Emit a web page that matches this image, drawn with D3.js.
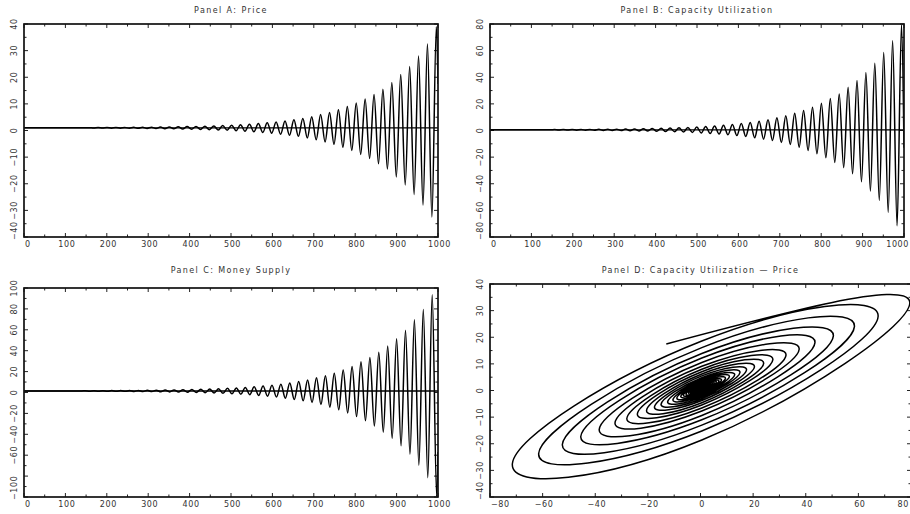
<!DOCTYPE html>
<html>
<head>
<meta charset="UTF-8"/>
<title>Panels A-D</title>
<script src="https://d3js.org/d3.v7.min.js"></script>
<style>
body { margin: 0; background: #fff; }
svg { display: block; }
text { font-family: 'DejaVu Sans', sans-serif; font-size: 8px; fill: #333; letter-spacing: 0.6px; }
text.title { letter-spacing: 1.4px; }
.frame { fill: none; stroke: #111; stroke-width: 1.7; }
.tick { stroke: #222; stroke-width: 1; }
.series { fill: none; stroke: #000; stroke-width: 1.5; }
.eq { stroke: #000; stroke-width: 1.4; }
</style>
</head>
<body>
<svg width="910" height="514"></svg>
<script>
// turning points of capacity utilization (peaks and troughs), in periods
const turnTimes = [155.5, 166.3, 177, 187.8, 198.5, 209.3, 220, 230.8, 241.5, 252.3,
  263, 273.8, 284.5, 295.3, 306, 316.8, 327.5, 338.3, 349, 359.8,
  370.5, 381.3, 392, 402.8, 413.5, 424.3, 435, 445.8, 456.5, 467.3,
  478, 488.8, 499.5, 510.3, 521, 531.8, 542.5, 553.3, 564, 574.8,
  585.5, 596.3, 607, 617.8, 628.5, 639.3, 650, 660.8, 671.5, 682.3,
  693, 703.8, 714.5, 725.3, 736, 746.8, 757.5, 768.3, 779, 789.8,
  800.5, 811.3, 822, 832.8, 843.5, 854.3, 865, 875.8, 886.5, 897.3,
  908, 918.8, 929.5, 940.3, 951, 961.8, 972.5, 983.3, 994, 1004.8];
const priceLag = 2;    // price turns after capacity utilization
const moneyLead = 8;   // money supply turns before capacity utilization

const priceEq = 1, cuEq = 0.5, moneyEq = 1.5;
const endPrice = 17.5, endCu = -13, endMoney = -57;

// deviations from equilibrium at each turning point
const cuTurns = [0.16, -0.18, 0.2, -0.21, 0.23, -0.25, 0.27, -0.3, 0.32, -0.35,
  0.38, -0.41, 0.44, -0.48, 0.52, -0.56, 0.62, -0.66, 0.72, -0.8,
  0.85, -0.9, 1, -1.05, 1.15, -1.25, 1.35, -1.45, 1.55, -1.7,
  1.8, -2, 2.1, -2.3, 2.5, -2.7, 2.9, -3.1, 3.4, -3.7,
  4, -4.3, 4.7, -5, 5.5, -6, 6.5, -7, 7.5, -8,
  9, -9.5, 10.5, -11, 12.5, -13, 14.5, -15.5, 17, -18,
  20, -21, 23.5, -24.5, 27, -28.5, 32, -33, 37, -39,
  43, -46, 50, -53, 58, -62, 67, -72, 79];
const priceTurns = [0.08, -0.08, 0.09, -0.1, 0.11, -0.12, 0.13, -0.14, 0.15, -0.16,
  0.18, -0.19, 0.21, -0.23, 0.25, -0.27, 0.29, -0.31, 0.34, -0.37,
  0.4, -0.43, 0.46, -0.5, 0.54, -0.58, 0.63, -0.68, 0.72, -0.8,
  0.85, -0.9, 1, -1.1, 1.15, -1.25, 1.35, -1.45, 1.6, -1.75,
  1.9, -2, 2.2, -2.4, 2.6, -2.8, 3, -3.2, 3.5, -3.8,
  4.2, -4.5, 5, -5.3, 5.8, -6.2, 6.8, -7.3, 8, -8.5,
  9.3, -10, 10.8, -11.5, 12.5, -13.5, 14.5, -15.5, 17, -18.5,
  20, -21.5, 23, -25, 27, -29, 31.5, -33.5, 38];
const moneyTurns = [0.2, -0.21, 0.23, -0.25, 0.27, -0.3, 0.32, -0.35, 0.38, -0.41,
  0.44, -0.48, 0.52, -0.56, 0.61, -0.66, 0.72, -0.78, 0.85, -0.92,
  1, -1.05, 1.15, -1.25, 1.35, -1.45, 1.55, -1.7, 1.8, -1.95,
  2.1, -2.3, 2.5, -2.7, 2.9, -3.1, 3.4, -3.6, 4, -4.3,
  4.7, -5, 5.5, -5.9, 6.4, -7, 7.6, -8.2, 9, -9.5,
  10.5, -11, 12.5, -13, 14.5, -15.5, 17, -18, 20, -21,
  23.5, -24.5, 28, -28.5, 32, -33.5, 37, -39.5, 43, -45.5,
  50, -52.5, 58, -60.5, 68, -71, 78, -83, 92, -101];

// panel D: price deviation when capacity utilization turns, and when it next crosses equilibrium
const phasePriceAtTurn = [0.07, -0.07, 0.08, -0.085, 0.09, -0.1, 0.11, -0.12, 0.13, -0.14,
  0.15, -0.16, 0.18, -0.2, 0.21, -0.23, 0.25, -0.26, 0.29, -0.31,
  0.34, -0.37, 0.39, -0.43, 0.46, -0.49, 0.54, -0.58, 0.61, -0.68,
  0.72, -0.77, 0.85, -0.94, 0.98, -1.06, 1.15, -1.23, 1.36, -1.49,
  1.62, -1.7, 1.87, -2.04, 2.21, -2.38, 2.55, -2.72, 2.98, -3.23,
  3.57, -3.83, 4.25, -4.5, 4.93, -5.27, 5.78, -6.2, 6.8, -7.2,
  7.9, -8.5, 9.2, -9.8, 10.6, -11.5, 12.3, -13.2, 14.5, -15.7,
  17, -18.3, 19.5, -21.3, 23, -24.7, 26.8, -28.5, 32.4];
const phasePriceAtCross = [0.045, -0.045, 0.05, -0.056, 0.06, -0.067, 0.073, -0.078, 0.084, -0.09,
  0.1, -0.106, 0.12, -0.13, 0.14, -0.15, 0.16, -0.17, 0.19, -0.21,
  0.22, -0.24, 0.26, -0.28, 0.3, -0.32, 0.35, -0.38, 0.4, -0.45,
  0.48, -0.5, 0.56, -0.62, 0.64, -0.7, 0.76, -0.81, 0.9, -0.98,
  1.06, -1.12, 1.23, -1.34, 1.46, -1.57, 1.68, -1.8, 1.96, -2.13,
  2.35, -2.52, 2.8, -2.97, 3.25, -3.47, 3.8, -4.1, 4.5, -4.76,
  5.2, -5.6, 6.05, -6.44, 7, -7.56, 8.1, -8.7, 9.5, -10.4,
  11.2, -12, 12.9, -14, 15.1, -16.2, 17.6, -19.6];

const timeTickLabels = [0, 100, 200, 300, 400, 500, 600, 700, 800, 900, 1000];
const priceTickLabels = [-40, -30, -20, -10, 0, 10, 20, 30, 40];
const cuTickLabels = [-80, -60, -40, -20, 0, 20, 40, 60, 80];
const moneyTickLabels = [-100, -60, -40, -20, 0, 20, 40, 60, 80, 100];
const phaseCuTickLabels = [-80, -60, -40, -20, 0, 20, 40, 60, 80];

const W = 910;
const svg = d3.select('svg');
const fmt = v => v < 0 ? '\u2212' + Math.abs(v) : String(v);

function series(turns, eq, shift, endValue) {
  const pts = [[0, eq], [turnTimes[0] + shift - 8, eq]];
  turns.forEach((v, i) => pts.push([turnTimes[i] + shift, eq + v]));
  pts.push([1000, endValue]);
  return pts;
}

function panel(cfg) {
  const g = svg.append('g');
  const x = d3.scaleLinear().domain(cfg.xDomain).range([cfg.left, cfg.right]);
  const y = d3.scaleLinear().domain(cfg.yDomain).range([cfg.bottom, cfg.top]);
  const id = 'clip' + cfg.name;
  g.append('clipPath').attr('id', id).append('rect')
    .attr('x', cfg.left).attr('y', cfg.top)
    .attr('width', cfg.right - cfg.left).attr('height', cfg.bottom - cfg.top);

  // ticks, inward on all four sides
  const xt = d3.range(cfg.xDomain[0], cfg.xDomain[1] + 1e-9, cfg.xMinor);
  const yt = d3.range(cfg.yDomain[0], cfg.yDomain[1] + 1e-9, cfg.yMinor);
  const isMajor = (v, step) => Math.abs(v / step - Math.round(v / step)) < 1e-6;
  xt.forEach(v => {
    const len = isMajor(v, cfg.xMajor) ? 4 : 2.5;
    g.append('line').attr('class', 'tick').attr('x1', x(v)).attr('x2', x(v))
      .attr('y1', cfg.bottom).attr('y2', cfg.bottom - len);
    g.append('line').attr('class', 'tick').attr('x1', x(v)).attr('x2', x(v))
      .attr('y1', cfg.top).attr('y2', cfg.top + len);
  });
  yt.forEach(v => {
    const len = isMajor(v, cfg.yMajor) ? 4 : 2.5;
    g.append('line').attr('class', 'tick').attr('y1', y(v)).attr('y2', y(v))
      .attr('x1', cfg.left).attr('x2', cfg.left + len);
    g.append('line').attr('class', 'tick').attr('y1', y(v)).attr('y2', y(v))
      .attr('x1', cfg.right).attr('x2', cfg.right - len);
  });

  // x labels, kept inside the frame on the left and inside the page on the right
  cfg.xLabels.forEach(v => {
    const t = g.append('text').attr('text-anchor', 'middle')
      .attr('y', cfg.bottom + 10).text(fmt(v));
    const w = t.node().getComputedTextLength();
    let cx = Math.max(x(v) + 1.5, cfg.left + 1 + w / 2);
    cx = Math.min(cx, W - 1 - w / 2);
    t.attr('x', cx);
  });
  // y labels, rotated
  cfg.yLabels.forEach(v => {
    const t = g.append('text').attr('text-anchor', 'middle').text(fmt(v));
    const w = t.node().getComputedTextLength();
    const cy = Math.min(y(v), cfg.bottom + 3 - w / 2);
    t.attr('transform', `translate(${cfg.left - 7},${cy}) rotate(-90)`);
  });

  g.append('text').attr('class', 'title').attr('text-anchor', 'middle')
    .attr('x', (cfg.left + cfg.right) / 2).attr('y', cfg.titleY).text(cfg.title);

  const body = g.append('g').attr('clip-path', `url(#${id})`);
  if (cfg.eq !== undefined) {
    body.append('line').attr('class', 'eq')
      .attr('x1', cfg.left).attr('x2', cfg.right)
      .attr('y1', y(cfg.eq)).attr('y2', y(cfg.eq));
  }
  body.append('path').attr('class', 'series')
    .attr('d', d3.line().x(d => x(d[0])).y(d => y(d[1])).curve(cfg.curve)(cfg.points));

  g.append('rect').attr('class', 'frame')
    .attr('x', cfg.left).attr('y', cfg.top)
    .attr('width', cfg.right - cfg.left).attr('height', cfg.bottom - cfg.top);
}

panel({
  name: 'A', title: 'Panel A: Price', titleY: 13,
  left: 24, right: 438, top: 24, bottom: 237,
  xDomain: [0, 1000], xMajor: 100, xMinor: 50, xLabels: timeTickLabels,
  yDomain: [-40, 40], yMajor: 10, yMinor: 5, yLabels: priceTickLabels,
  eq: priceEq, curve: d3.curveMonotoneX,
  points: series(priceTurns, priceEq, priceLag, endPrice)
});
panel({
  name: 'B', title: 'Panel B: Capacity Utilization', titleY: 13,
  left: 490, right: 904, top: 24, bottom: 237,
  xDomain: [0, 1000], xMajor: 100, xMinor: 50, xLabels: timeTickLabels,
  yDomain: [-80, 80], yMajor: 20, yMinor: 10, yLabels: cuTickLabels,
  eq: cuEq, curve: d3.curveMonotoneX,
  points: series(cuTurns, cuEq, 0, endCu)
});
panel({
  name: 'C', title: 'Panel C: Money Supply', titleY: 273,
  left: 24, right: 438, top: 288, bottom: 497,
  xDomain: [0, 1000], xMajor: 100, xMinor: 50, xLabels: timeTickLabels,
  yDomain: [-100, 100], yMajor: 20, yMinor: 10, yLabels: moneyTickLabels,
  eq: moneyEq, curve: d3.curveMonotoneX,
  points: series(moneyTurns, moneyEq, -moneyLead, endMoney)
});

// phase plot: capacity utilization against price
const phasePts = [[cuEq, priceEq]];
cuTurns.forEach((v, i) => {
  phasePts.push([cuEq + v, priceEq + phasePriceAtTurn[i]]);
  if (i < phasePriceAtCross.length) phasePts.push([cuEq, priceEq + phasePriceAtCross[i]]);
});
phasePts.push([endCu, endPrice]);

panel({
  name: 'D', title: 'Panel D: Capacity Utilization \u2014 Price', titleY: 273,
  left: 490, right: 911, top: 284, bottom: 497,
  xDomain: [-80, 80], xMajor: 20, xMinor: 10, xLabels: phaseCuTickLabels,
  yDomain: [-40, 40], yMajor: 10, yMinor: 5, yLabels: priceTickLabels,
  curve: d3.curveNatural,
  points: phasePts
});
</script>
</body>
</html>
